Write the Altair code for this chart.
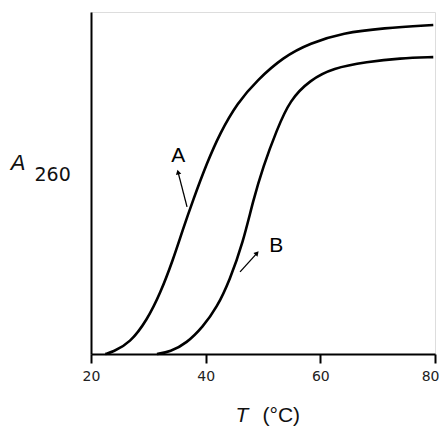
import altair as alt
import pandas as pd

# Curve A (temperature in °C, relative A260)
a_temp = [22.5, 23.8, 26.8, 29.8, 32.1, 34.3, 36.0, 37.8, 40.2, 42.5, 45.5, 49.0, 53.5, 58.2, 64.0, 70.9, 79.7]
a_abs = [0.0, 0.006, 0.032, 0.100, 0.178, 0.275, 0.363, 0.450, 0.558, 0.646, 0.734, 0.801, 0.868, 0.909, 0.939, 0.953, 0.962]
# Curve B
b_temp = [31.5, 33.8, 36.7, 39.5, 42.0, 44.2, 46.5, 48.3, 50.0, 52.4, 54.7, 58.2, 62.2, 68.1, 73.9, 79.7]
b_abs = [0.0, 0.006, 0.032, 0.079, 0.137, 0.216, 0.325, 0.450, 0.547, 0.655, 0.743, 0.801, 0.836, 0.854, 0.865, 0.868]

x_ticks = [20, 40, 60, 80]

# Annotation labels and arrows (data coordinates)
label_text = ["A", "B"]
label_x = [35.2, 52.3]
label_y = [0.579, 0.316]
arrow_x = [36.75, 46.0]
arrow_y = [0.430, 0.240]
arrow_x2 = [35.18, 48.96]
arrow_y2 = [0.532, 0.295]
arrow_angle = [346, 42]

curves = pd.DataFrame({
    "T": a_temp + b_temp,
    "A": a_abs + b_abs,
    "s": ["A"] * len(a_temp) + ["B"] * len(b_temp),
})
labels = pd.DataFrame({"t": label_text, "x": label_x, "y": label_y})
arrows = pd.DataFrame({"x": arrow_x, "y": arrow_y, "x2": arrow_x2, "y2": arrow_y2, "ang": arrow_angle})

xs = alt.Scale(domain=[20, 80], nice=False, zero=False)
ys = alt.Scale(domain=[0, 1], nice=False, zero=False)
FONT = "Liberation Sans"

base_x = alt.X("T:Q", scale=xs, axis=alt.Axis(
    values=x_ticks, title=None, grid=False, domainColor="black", domainWidth=2,
    tickColor="black", tickWidth=2, tickSize=9, labelPadding=6,
    labelFont="DejaVu Sans", labelFontSize=14, labelColor="#222", labelFlush=False,
    labelAlign=alt.expr("datum.value == 80 ? 'right' : 'center'"),
    labelOffset=alt.expr("datum.value == 80 ? 4 : 0")))
base_y = alt.Y("A:Q", scale=ys, axis=alt.Axis(
    title=None, grid=False, ticks=False, labels=False,
    domainColor="black", domainWidth=2))

lines = alt.Chart(curves).mark_line(color="black", strokeWidth=2.6, interpolate="basis").encode(
    x=base_x, y=base_y, detail="s:N")

txt = alt.Chart(labels).mark_text(font=FONT, fontSize=21, color="black", align="center", baseline="middle").encode(
    x=alt.X("x:Q", scale=xs), y=alt.Y("y:Q", scale=ys), text="t:N")

shafts = alt.Chart(arrows).mark_rule(color="black", strokeWidth=1.3).encode(
    x=alt.X("x:Q", scale=xs), y=alt.Y("y:Q", scale=ys), x2="x2:Q", y2="y2:Q")

heads = alt.Chart(arrows).mark_point(shape="triangle-up", filled=True, color="black", size=30, opacity=1).encode(
    x=alt.X("x2:Q", scale=xs), y=alt.Y("y2:Q", scale=ys), angle=alt.Angle("ang:Q", scale=None))

# Axis titles as text (italic symbol + plain part)
ttl = pd.DataFrame({
    "t": ["A", "260", "T", "(°C)"],
    "x": [7.3, 13.3, 46.3, 53.2],
    "y": [0.558, 0.523, -0.181, -0.181],
    "style": ["italic", "normal", "italic", "normal"],
    "size": [22, 19, 21, 21],
    "font": [FONT, "DejaVu Sans", FONT, FONT],
})
titles = alt.layer(*[
    alt.Chart(ttl.iloc[[i]]).mark_text(font=ttl["font"][i], fontSize=int(ttl["size"][i]), fontStyle=ttl["style"][i],
                                        color="#111", align="center", baseline="middle").encode(
        x=alt.X("x:Q", scale=xs), y=alt.Y("y:Q", scale=ys), text="t:N")
    for i in range(len(ttl))
])

chart = alt.layer(lines, shafts, heads, txt, titles).properties(
    width=344, height=342,
    autosize=alt.AutoSizeParams(type="none"),
    padding={"left": 83, "top": 4, "right": 4, "bottom": 72},
).configure_view(stroke=None).configure(background="white")

chart.save("out.html", embed_options={"renderer": "svg", "actions": False})
